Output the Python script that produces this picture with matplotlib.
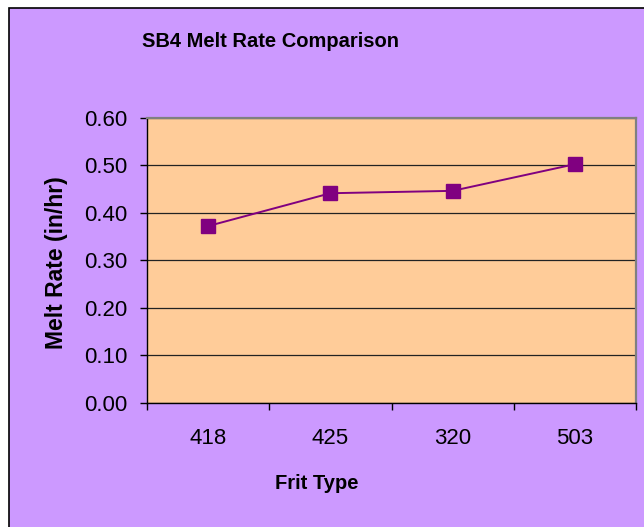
import matplotlib
matplotlib.use("Agg")
import matplotlib.pyplot as plt
from matplotlib.patches import Rectangle

categories = ["418", "425", "320", "503"]
melt_rate = [0.372, 0.441, 0.446, 0.502]
y_ticks = [0.0, 0.1, 0.2, 0.3, 0.4, 0.5, 0.6]

plt.rcParams['font.family'] = ['Liberation Sans', 'DejaVu Sans']

W, H = 644, 527
fig = plt.figure(figsize=(W/100, H/100), dpi=100, facecolor='white')
# chart area background with black border
bg = Rectangle((8.5/W, -0.01), 1.0, 1 - 7.5/H + 0.01, transform=fig.transFigure,
               facecolor='#CC99FF', edgecolor='black', linewidth=1.2, zorder=-5)
fig.add_artist(bg)

ax = fig.add_axes([147.3/W, 1 - 402.7/H, (635.7-147.3)/W, (402.7-117.7)/H])
ax.set_zorder(1)
ax.set_facecolor('#FFCC99')

x = list(range(len(categories)))
ax.plot(x, melt_rate, color='#800080', linewidth=1.4, marker='s', markersize=9.5,
        markerfacecolor='#800080', markeredgecolor='#800080', zorder=3, clip_on=False)

ax.set_xlim(-0.5, len(categories) - 0.5)
ax.set_ylim(0, 0.6)
ax.set_yticks(y_ticks)
ax.set_yticklabels([f"{v:.2f}" for v in y_ticks], fontsize=16)
ax.set_xticks([i - 0.5 for i in range(len(categories) + 1)])
ax.set_xticklabels([])
ax.set_xticks(x, minor=True)
ax.set_xticklabels(categories, minor=True, fontsize=16)
ax.tick_params(axis='x', which='minor', length=0, pad=18)
ax.tick_params(axis='x', which='major', length=5, width=1, color='black', direction='out')
ax.tick_params(axis='y', length=5, width=1, color='black', direction='out', pad=9.5)

ax.grid(axis='y', color='#222222', linewidth=0.9)
ax.set_axisbelow(True)
for s in ['left', 'bottom']:
    ax.spines[s].set_color('black')
    ax.spines[s].set_linewidth(1.0)
for s in ['right', 'top']:
    ax.spines[s].set_color('#808080')
    ax.spines[s].set_linewidth(1.6)

fig.text(270.5/W, 1 - 47.3/H, "SB4 Melt Rate Comparison", ha='center', va='baseline',
         fontsize=14.5, fontweight='bold')
fig.text(317/W, 1 - 489/H, "Frit Type", ha='center', va='baseline',
         fontsize=14.5, fontweight='bold')
fig.text(56.5/W, 1 - 263/H, "Melt Rate (in/hr)", ha='center', va='center',
         fontsize=16.5, fontweight='bold', rotation=90)

fig.savefig("out.png", dpi=100, facecolor=fig.get_facecolor())
